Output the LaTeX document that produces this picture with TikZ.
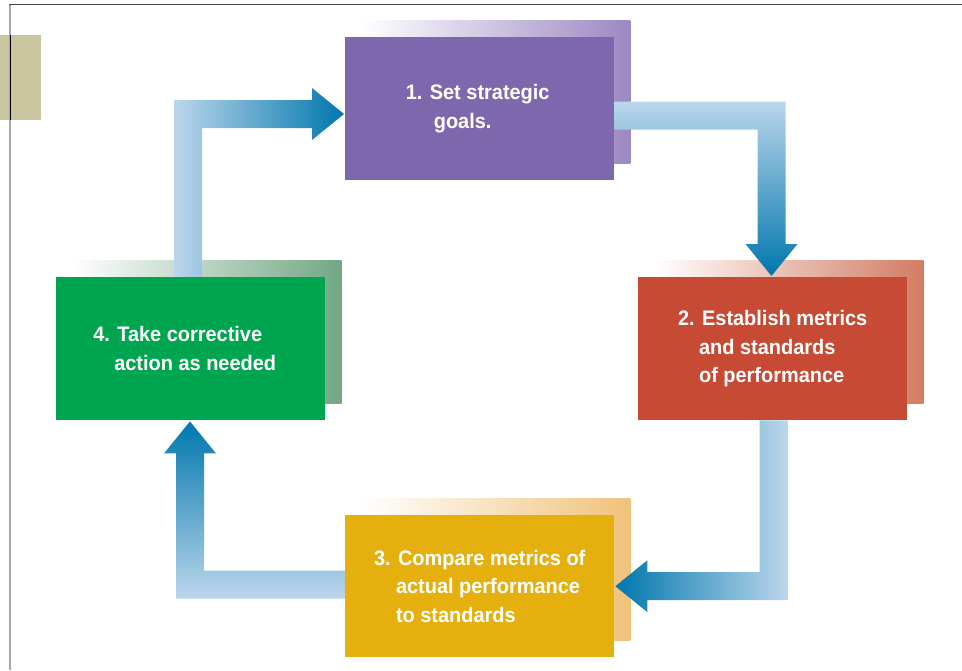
\documentclass[tikz,border=0pt]{standalone}
\usepackage{fontspec}
\setmainfont[FakeStretch=0.95]{Liberation Sans}
\usetikzlibrary{calc}
\definecolor{purpM}{HTML}{7D68AD}
\definecolor{purpS}{HTML}{9C88C2}
\definecolor{redM}{HTML}{C64A34}
\definecolor{redS}{HTML}{D27C63}
\definecolor{yelM}{HTML}{E5B00D}
\definecolor{yelS}{HTML}{F0C27A}
\definecolor{grnM}{HTML}{00A54F}
\definecolor{grnS}{HTML}{72A784}
\definecolor{arL}{HTML}{BBD6EB}
\definecolor{arD}{HTML}{0077AD}
\definecolor{tanbox}{HTML}{C8C59F}
\definecolor{frameTop}{HTML}{444444}
\definecolor{frameLeft}{HTML}{A8A8A8}
\pgfdeclarelayer{sh}
\pgfdeclarelayer{ar}
\pgfsetlayers{sh,ar,main}
\begin{document}
\begin{tikzpicture}[x=1pt,y=-1pt,
  box/.style={anchor=north west, minimum width=269pt, minimum height=143pt,
    inner sep=0pt, text=white, align=left,
    font=\fontsize{21}{28.5}\selectfont\bfseries},
  shadowbox/.style={left color=white, right color=#1},
  flowarrow/.style={draw=none}]
\useasboundingbox (0,0) rectangle (962,670);
% frame
\fill[tanbox] (0,35) rectangle (41,120);
\draw[frameLeft, line width=2.2pt] (10,4) -- (10,670);
\draw[black, line width=0.8pt] (10,35) -- (10,120);
\draw[frameTop, line width=1.2pt] (9,4.5) -- (962,4.5);

% boxes
\node[box, fill=purpM] (b1) at (345,37) {1. Set strategic\hspace*{4pt}\\\hspace*{28pt}goals.};
\node[box, fill=redM] (b2) at (638,277) {2. Establish metrics\\\hspace*{21pt}and standards\\\hspace*{21pt}of performance};
\node[box, fill=yelM, minimum height=142pt] (b3) at (345,515) {3. Compare metrics of\\\hspace*{22pt}actual performance\\\hspace*{22pt}to standards};
\node[box, fill=grnM] (b4) at (56,277) {4. Take corrective\\\hspace*{21pt}action as needed\hspace*{12pt}};

% shadows
\begin{pgfonlayer}{sh}
\foreach \b/\c in {b1/purpS, b2/redS, b3/yelS, b4/grnS}{
  \shade[shadowbox=\c] ($(\b.north west)+(16,-17)$) rectangle ($(\b.south east)+(16,-17)$);
}
\end{pgfonlayer}

% arrows
\begin{pgfonlayer}{ar}
% 4 -> 1
\coordinate (aS) at ($(b4.north west)+(132,0)$);
\coordinate (aT) at ($(b1.north west)+(-1,77)$);
\coordinate (aC) at (aS |- aT);
\shade[flowarrow, left color=arL, right color=arD]
  ($(aS)+(-14,0)$) -- ($(aC)+(-14,-14)$) -- ($(aT)+(-32,-14)$) -- ($(aT)+(-32,-26)$)
  -- (aT) -- ($(aT)+(-32,26)$) -- ($(aT)+(-32,14)$) -- ($(aC)+(14,14)$)
  -- ($(aS)+(14,0)$) -- cycle;
% 1 -> 2
\coordinate (bS) at ($(b1.north east)+(0,78.5)$);
\coordinate (bT) at ($(b2.north west)+(133.5,-1)$);
\coordinate (bC) at (bT |- bS);
\shade[flowarrow, top color=arL, bottom color=arD]
  ($(bS)+(0,-14)$) -- ($(bC)+(14,-14)$) -- ($(bT)+(14,-32)$) -- ($(bT)+(26,-32)$)
  -- (bT) -- ($(bT)+(-26,-32)$) -- ($(bT)+(-14,-32)$) -- ($(bC)+(-14,14)$)
  -- ($(bS)+(0,14)$) -- cycle;
% 2 -> 3
\coordinate (cS) at ($(b2.south west)+(135.5,0)$);
\coordinate (cT) at ($(b3.east)+(1,0)$);
\coordinate (cC) at (cS |- cT);
\shade[flowarrow, left color=arD, right color=arL]
  ($(cS)+(14,0)$) -- ($(cC)+(14,14)$) -- ($(cT)+(32,14)$) -- ($(cT)+(32,26)$)
  -- (cT) -- ($(cT)+(32,-26)$) -- ($(cT)+(32,-14)$) -- ($(cC)+(-14,-14)$)
  -- ($(cS)+(-14,0)$) -- cycle;
% 3 -> 4
\coordinate (dS) at ($(b3.west)+(0,-1.5)$);
\coordinate (dT) at ($(b4.south west)+(134,1)$);
\coordinate (dC) at (dT |- dS);
\shade[flowarrow, top color=arD, bottom color=arL]
  ($(dS)+(0,14)$) -- ($(dC)+(-14,14)$) -- ($(dT)+(-14,32)$) -- ($(dT)+(-26,32)$)
  -- (dT) -- ($(dT)+(26,32)$) -- ($(dT)+(14,32)$) -- ($(dC)+(14,-14)$)
  -- ($(dS)+(0,-14)$) -- cycle;
\end{pgfonlayer}
\end{tikzpicture}
\end{document}
